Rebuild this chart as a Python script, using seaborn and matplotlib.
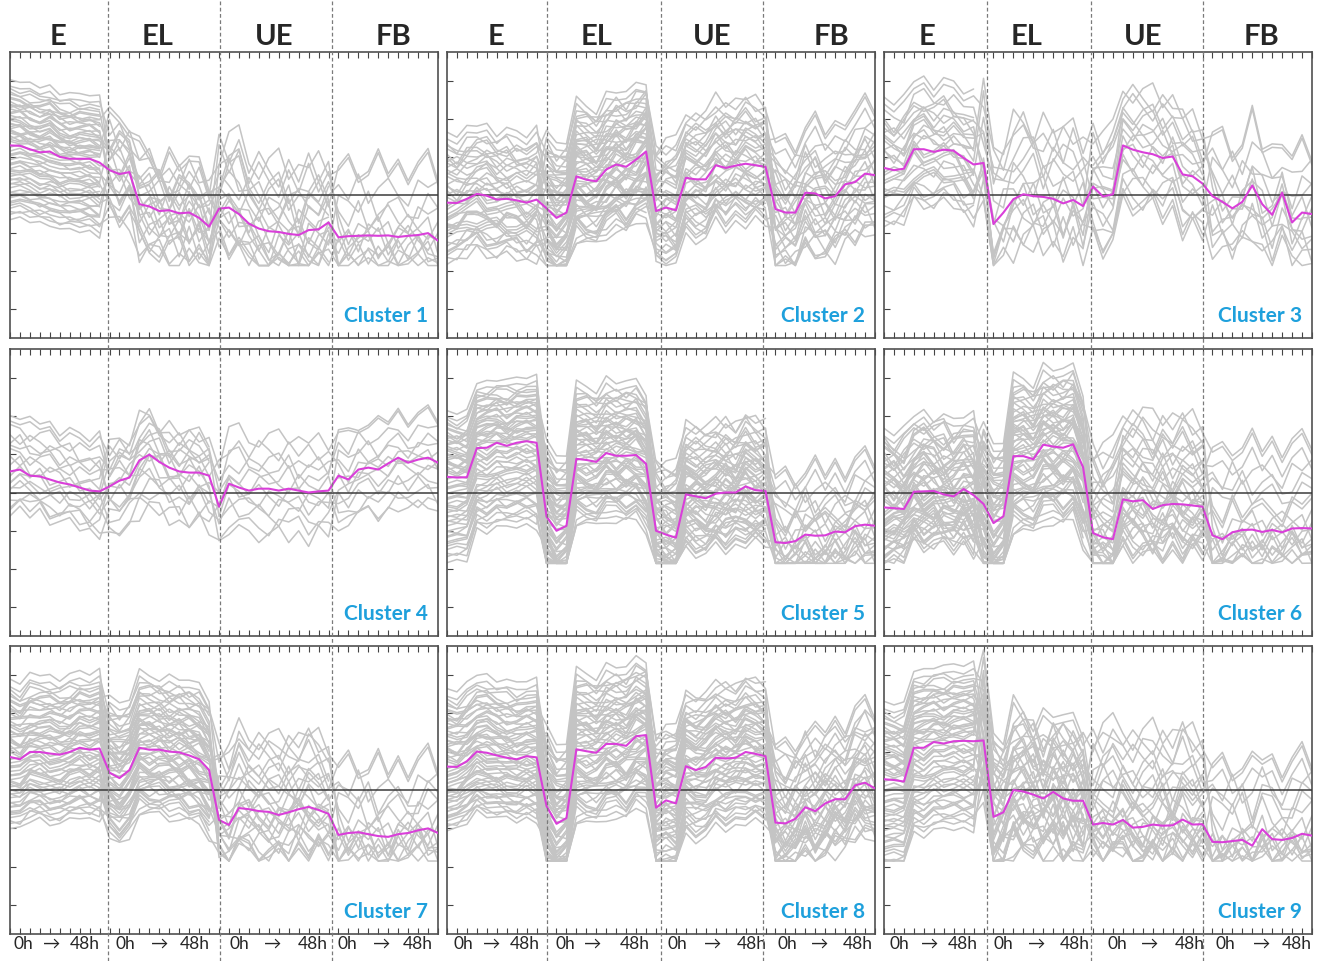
import numpy as np
import pandas as pd
import seaborn as sns
import matplotlib.pyplot as plt
from matplotlib.lines import Line2D

sns.set_style('white')
plt.rcParams['font.family'] = ['Lato', 'DejaVu Sans']

W, H = 1318, 961
conditions = ['E', 'EL', 'UE', 'FB']
cluster_names = ['Cluster %d' % i for i in range(1, 10)]
n_pts = 44
seg_of_point = [0] * 10 + [1] * 11 + [2] * 12 + [3] * 11
floor = -1.85

# magenta mean profile of each cluster (E | EL | UE | FB, 0h -> 48h)
mean_c1 = [1.3, 1.29, 1.2, 1.12, 1.14, 1.0, 0.95, 0.95, 0.95, 0.85,
           0.65, 0.55, 0.6, -0.24, -0.3, -0.42, -0.4, -0.48, -0.46, -0.6, -0.83,
           -0.36, -0.33, -0.5, -0.75, -0.88, -0.95, -0.97, -1.02, -1.05, -0.92, -0.9, -0.72,
           -1.11, -1.08, -1.07, -1.06, -1.07, -1.06, -1.1, -1.07, -1.05, -1.0, -1.2]
mean_c2 = [-0.2, -0.21, -0.1, 0.03, -0.02, -0.12, -0.1, -0.14, -0.2, -0.12,
           -0.35, -0.6, -0.46, 0.49, 0.4, 0.36, 0.67, 0.8, 0.74, 0.93, 1.14,
           -0.42, -0.33, -0.4, 0.45, 0.41, 0.41, 0.78, 0.71, 0.77, 0.82, 0.78, 0.74,
           -0.37, -0.46, -0.46, 0.06, 0.04, -0.09, -0.03, 0.28, 0.34, 0.56, 0.52]
mean_c3 = [0.71, 0.65, 0.69, 1.2, 1.2, 1.13, 1.19, 1.16, 0.97, 0.8, 0.84,
           -0.76, -0.46, -0.11, 0.02, -0.03, -0.05, -0.1, -0.22, -0.13, -0.29,
           0.22, -0.04, 0.02, 1.3, 1.19, 1.12, 1.07, 0.97, 1.01, 0.54, 0.49, 0.3,
           -0.03, -0.18, -0.35, -0.18, 0.25, -0.24, -0.52, 0.06, -0.72, -0.46, -0.5]
mean_c4 = [0.55, 0.6, 0.44, 0.42, 0.34, 0.26, 0.21, 0.13, 0.05, 0.03,
           0.16, 0.31, 0.39, 0.84, 0.99, 0.8, 0.65, 0.55, 0.52, 0.52, 0.44,
           -0.37, 0.23, 0.13, 0.05, 0.1, 0.1, 0.05, 0.1, 0.05, 0.0, 0.03, 0.05,
           0.44, 0.34, 0.6, 0.65, 0.6, 0.76, 0.91, 0.78, 0.86, 0.91, 0.78]
mean_c5 = [0.41, 0.39, 0.4, 1.16, 1.17, 1.3, 1.22, 1.3, 1.34, 1.3,
           -0.63, -1.0, -0.87, 0.88, 0.85, 0.8, 1.03, 0.96, 0.96, 0.98, 0.75,
           -1.0, -1.1, -1.18, -0.05, -0.1, -0.15, -0.03, 0.0, 0.0, 0.16, 0.06, 0.04,
           -1.3, -1.32, -1.27, -1.1, -1.13, -1.12, -1.02, -1.04, -0.88, -0.84, -0.87]
mean_c6 = [-0.39, -0.41, -0.43, 0.02, 0.03, 0.04, -0.05, -0.1, 0.09, -0.07,
           -0.3, -0.8, -0.62, 0.95, 0.95, 0.87, 1.25, 1.2, 1.17, 1.26, 0.66,
           -1.06, -1.17, -1.22, -0.18, -0.23, -0.2, -0.43, -0.33, -0.3, -0.31, -0.34, -0.37,
           -1.12, -1.22, -1.04, -0.98, -0.97, -1.03, -0.98, -1.04, -0.94, -0.93, -0.94]
mean_c7 = [0.86, 0.8, 0.99, 0.99, 0.95, 0.92, 0.99, 1.1, 1.05, 1.08,
           0.45, 0.31, 0.52, 1.1, 1.05, 1.05, 1.0, 0.98, 0.9, 0.8, 0.52,
           -0.78, -0.91, -0.47, -0.5, -0.55, -0.57, -0.65, -0.58, -0.5, -0.44, -0.52, -0.62,
           -1.17, -1.12, -1.1, -1.15, -1.2, -1.22, -1.15, -1.12, -1.05, -1.0, -1.12]
mean_c8 = [0.61, 0.6, 0.75, 1.0, 0.97, 0.9, 0.84, 0.8, 0.88, 0.85,
           -0.42, -0.88, -0.73, 1.06, 1.01, 0.97, 1.2, 1.2, 1.15, 1.4, 1.43,
           -0.46, -0.27, -0.35, 0.62, 0.52, 0.6, 0.84, 0.82, 0.84, 0.99, 0.94, 0.88,
           -0.85, -0.87, -0.75, -0.45, -0.55, -0.35, -0.24, -0.24, 0.12, 0.19, 0.04]
mean_c9 = [0.28, 0.26, 0.22, 1.1, 1.1, 1.25, 1.21, 1.27, 1.28, 1.27,
           1.29, -0.7, -0.58, 0.0, -0.04, -0.12, -0.22, -0.05, -0.22, -0.28, -0.28,
           -0.9, -0.86, -0.9, -0.78, -0.98, -0.96, -0.9, -0.93, -0.92, -0.77, -0.9, -0.89,
           -1.35, -1.36, -1.33, -1.3, -1.45, -1.02, -1.28, -1.3, -1.25, -1.14, -1.19]
means = [mean_c1, mean_c2, mean_c3, mean_c4, mean_c5, mean_c6, mean_c7, mean_c8, mean_c9]

# spread of the grey gene profiles above / below the mean, per condition
spread_up = [[1.7, 1.3, 1.8, 2.0], [1.8, 1.9, 1.8, 2.0], [1.8, 2.0, 1.6, 1.8],
             [1.4, 1.1, 1.4, 1.3], [1.7, 1.9, 1.9, 1.9], [2.0, 2.0, 2.4, 2.5],
             [2.0, 1.9, 2.0, 2.0], [2.0, 2.0, 2.0, 2.2], [2.0, 2.0, 2.5, 2.2]]
spread_dn = [[2.0, 1.3, 1.2, 0.9], [1.6, 1.8, 1.7, 1.6], [1.5, 1.4, 1.6, 1.3],
             [1.1, 1.5, 1.3, 1.3], [2.3, 1.8, 1.6, 1.0], [1.5, 2.1, 1.5, 0.9],
             [1.9, 1.8, 1.3, 0.8], [1.7, 2.0, 2.0, 1.4], [2.4, 1.7, 1.0, 0.7]]
# how many of the grey profiles have values in each condition
shown = [[60, 24, 20, 14], [40, 60, 40, 30], [28, 16, 18, 14],
         [18, 18, 12, 14], [60, 60, 56, 24], [56, 60, 36, 20],
         [60, 60, 26, 16], [60, 60, 60, 40], [60, 44, 28, 18]]
# how jagged the grey profiles are in each condition
jag = [[0.12, 0.6, 0.7, 0.6], [0.25, 0.25, 0.3, 0.45], [0.3, 0.7, 0.5, 0.6],
       [0.3, 0.4, 0.4, 0.3], [0.15, 0.2, 0.3, 0.5], [0.35, 0.25, 0.5, 0.5],
       [0.15, 0.2, 0.5, 0.6], [0.15, 0.2, 0.2, 0.45], [0.15, 0.6, 0.6, 0.6]]

# relative position of each grey profile within the band, per condition
offsets = [
    [0.9, 0.8, 0.95, 0.85], [-0.8, -0.9, -0.7, -0.95], [0.3, 0.5, 0.2, 0.6],
    [-0.4, -0.3, -0.5, -0.2], [0.6, 0.2, 0.7, 0.1], [-0.1, -0.6, 0.1, -0.7],
    [0.1, 0.7, -0.2, 0.4], [-0.6, 0.0, -0.9, -0.5], [0.45, -0.2, 0.5, 0.9],
    [-0.95, -0.5, -0.3, -0.4], [0.75, 0.35, 0.4, 0.25], [-0.25, -0.8, -0.1, -0.85],
    [0.2, 0.9, 0.85, -0.1], [-0.7, 0.1, -0.6, 0.0], [0.5, -0.4, 0.3, 0.5],
    [-0.3, 0.6, -0.8, -0.3], [1.0, 0.3, 0.6, 0.7], [0.0, -0.1, 0.0, -0.6],
    [0.35, 0.55, -0.4, 0.2], [-0.5, -0.7, 0.45, -0.9], [0.65, 1.0, 0.1, 0.35],
    [-0.15, -0.25, -0.15, 0.15], [0.25, 0.15, 0.8, -0.45], [-0.85, -0.95, -0.75, -0.75],
    [0.55, 0.45, 0.35, 0.3], [-0.05, 0.25, -0.05, -0.15], [0.15, -0.05, 0.25, 0.05],
    [-0.45, -0.35, -0.35, -0.55], [0.8, 0.6, 0.65, 0.45], [-0.2, -0.15, -0.25, -0.25],
    [0.4, 0.4, 0.15, 0.1], [-0.35, -0.45, -0.45, -0.35], [0.05, 0.05, 0.05, 0.2],
    [-0.65, -0.55, -0.6, -0.65], [0.7, 0.75, 0.55, 0.55], [-0.55, -0.75, -0.55, -0.5],
    [0.12, 0.32, -0.28, 0.62], [-0.72, -0.42, 0.58, -0.12], [0.58, -0.12, 0.42, 0.78],
    [-0.32, 0.82, -0.62, -0.42], [0.32, -0.62, 0.12, 0.38], [-0.88, 0.42, -0.38, -0.62],
    [0.68, 0.12, 0.92, 0.18], [-0.12, -0.32, 0.22, -0.28], [0.22, 0.68, -0.12, 0.52],
    [-0.58, -0.12, -0.72, -0.08], [0.48, 0.22, 0.48, 0.68], [-0.42, -0.58, 0.32, -0.48],
    [0.08, 0.48, 0.72, 0.28], [-0.22, -0.82, -0.22, -0.72], [0.38, 0.08, 0.28, -0.32],
    [-0.68, 0.32, -0.48, 0.08], [0.85, 0.52, 0.08, 0.62], [-0.08, -0.22, -0.08, -0.18],
    [0.28, 0.85, 0.38, 0.42], [-0.48, -0.48, -0.82, -0.38], [0.62, 0.28, 0.62, 0.12],
    [-0.28, 0.18, -0.32, -0.58], [0.18, -0.38, 0.52, 0.32], [-0.78, -0.68, -0.18, -0.82]]

# time-course wiggles of the grey profiles
wiggles = [
    [0.2, -0.3, 0.5, -0.1, 0.4, -0.6, 0.3, 0.1, -0.4, 0.6, -0.2, 0.5, -0.7, 0.2, 0.8, -0.3, 0.1, -0.5, 0.6, -0.2, 0.3, -0.8,
     0.4, 0.9, -0.2, -0.6, 0.3, 0.7, -0.4, 0.2, -0.1, 0.5, -0.7, 0.1, 0.6, -0.5, -0.2, 0.8, -0.3, 0.4, -0.6, 0.2, 0.7, -0.4],
    [-0.4, 0.3, -0.2, 0.7, -0.5, 0.1, 0.6, -0.3, 0.2, -0.7, 0.4, -0.1, 0.5, -0.6, 0.3, 0.7, -0.4, 0.2, -0.2, 0.8, -0.5, 0.1,
     -0.6, 0.2, 0.5, -0.3, -0.8, 0.4, 0.1, 0.6, -0.5, 0.3, 0.2, -0.7, 0.1, 0.5, 0.8, -0.4, 0.3, -0.6, 0.2, 0.6, -0.3, -0.1],
    [0.6, 0.1, -0.5, 0.3, 0.8, -0.2, -0.6, 0.4, 0.0, 0.5, -0.3, 0.7, 0.2, -0.4, -0.1, 0.6, -0.7, 0.5, 0.1, -0.3, 0.4, 0.3,
     -0.2, -0.5, 0.7, 0.2, -0.4, -0.1, 0.8, -0.6, 0.4, 0.0, 0.5, 0.3, -0.4, 0.7, -0.6, 0.1, 0.5, -0.2, -0.7, 0.4, 0.0, 0.6],
    [-0.1, 0.5, 0.2, -0.6, 0.1, 0.7, -0.4, -0.2, 0.6, -0.5, 0.3, -0.6, 0.0, 0.6, -0.3, -0.5, 0.4, 0.7, -0.6, 0.2, 0.0, 0.5,
     0.7, -0.3, 0.1, 0.6, -0.2, -0.7, 0.3, 0.5, -0.3, -0.6, 0.2, -0.4, 0.5, 0.0, 0.3, -0.6, -0.2, 0.7, 0.4, -0.5, 0.2, 0.3],
    [0.4, -0.6, 0.7, 0.2, -0.3, 0.3, 0.8, -0.6, -0.1, 0.2, 0.6, 0.3, -0.4, 0.8, 0.1, -0.6, 0.6, -0.1, 0.3, 0.5, -0.6, 0.6,
     -0.5, 0.6, -0.3, 0.7, 0.1, -0.5, 0.6, -0.2, 0.7, -0.4, 0.1, 0.6, -0.7, 0.2, -0.1, 0.5, -0.7, 0.1, 0.6, -0.1, -0.6, 0.5],
    [-0.6, 0.0, 0.3, 0.5, -0.7, -0.1, 0.2, 0.6, -0.6, 0.1, -0.1, -0.3, 0.6, 0.1, -0.7, 0.2, 0.5, -0.6, 0.7, -0.5, 0.6, -0.4,
     0.2, -0.1, -0.6, 0.4, 0.6, 0.0, -0.6, 0.7, 0.1, -0.3, 0.6, -0.2, 0.3, -0.7, 0.5, 0.2, 0.6, -0.5, 0.0, 0.3, 0.7, -0.6],
    [0.1, 0.7, -0.4, -0.5, 0.6, 0.4, -0.7, 0.0, 0.5, -0.3, 0.7, -0.5, 0.3, 0.4, 0.6, -0.2, -0.3, 0.6, -0.5, 0.7, -0.3, 0.0,
     0.6, 0.4, -0.1, -0.5, 0.5, 0.3, -0.3, -0.7, 0.6, 0.2, -0.5, 0.5, 0.2, -0.3, 0.6, -0.7, 0.1, 0.4, -0.5, -0.6, 0.4, 0.1],
    [-0.3, -0.5, 0.6, 0.1, -0.2, -0.7, 0.5, 0.3, -0.5, 0.7, 0.0, 0.2, -0.5, -0.2, 0.4, 0.5, -0.6, -0.3, 0.5, 0.1, -0.7, 0.7,
     -0.4, 0.5, 0.3, -0.6, 0.0, 0.6, -0.6, 0.3, -0.6, 0.7, -0.1, 0.7, -0.3, 0.4, -0.5, 0.3, -0.4, 0.6, -0.3, 0.7, -0.5, 0.0]]


def grey_frame(k):
    mean = means[k]
    rows = []
    for j, off in enumerate(offsets):
        wig = wiggles[j % len(wiggles)]
        run, prev = 0, True
        for t in range(n_pts):
            s = seg_of_point[t]
            if j >= shown[k][s]:
                if prev:
                    run += 1
                prev = False
                continue
            prev = True
            spread = spread_up[k][s] if off[s] > 0 else spread_dn[k][s]
            v = mean[t] + off[s] * spread + wig[t] * jag[k][s]
            rows.append((t, max(v, floor), '%d-%d' % (j, run)))
    return pd.DataFrame(rows, columns=['t', 'expr', 'gene'])


fig = plt.figure(figsize=(W / 100, H / 100), dpi=100)

col_x = [(10, 438), (447, 875), (884, 1312)]
row_y = [(52, 338), (349, 636), (646, 934)]
bounds_px = [[108, 220, 332], [547, 661, 763], [987, 1091, 1203]]
header_px = [[58, 158, 274, 394], [496, 597, 712, 831], [927, 1027, 1143, 1262]]
time_px = [[(13, 52, 100), (115, 160, 210), (230, 273, 328), (337, 382, 433)],
           [(453, 492, 540), (555, 593, 650), (668, 713, 767), (777, 820, 873)],
           [(890, 930, 978), (993, 1037, 1090), (1108, 1150, 1205), (1215, 1262, 1312)]]

for k in range(9):
    r, c = divmod(k, 3)
    x0, x1 = col_x[c]
    y0, y1 = row_y[r]
    ax = fig.add_axes([x0 / W, 1 - y1 / H, (x1 - x0) / W, (y1 - y0) / H])
    df = grey_frame(k)
    sns.lineplot(data=df, x='t', y='expr', units='gene', estimator=None,
                 color='#c4c4c4', lw=1.1, ax=ax, legend=False)
    ax.axhline(0, color='#3a3a3a', lw=1.1, zorder=3)
    sns.lineplot(x=list(range(n_pts)), y=means[k], color='#d93fd9', lw=1.5, ax=ax, zorder=4)
    ax.set_xlim(0, n_pts - 1)
    ax.set_ylim(-3.75, 3.75)
    ax.set_xticks(range(n_pts))
    ax.set_yticks(range(-3, 4))
    ax.set_xticklabels([])
    ax.set_yticklabels([])
    ax.set_xlabel('')
    ax.set_ylabel('')
    ax.tick_params(axis='x', direction='in', top=True, bottom=True, length=4, width=0.8, color='#444444')
    ax.tick_params(axis='y', direction='in', left=True, right=False, length=4, width=0.8, color='#444444')
    for sp in ax.spines.values():
        sp.set_visible(True)
        sp.set_color('#505050')
        sp.set_linewidth(1.2)
    ax.text(0.977, 0.055, cluster_names[k], transform=ax.transAxes, ha='right', va='baseline',
            color='#1ea0dc', fontsize=15, fontweight='bold')

for c in range(3):
    for xb in bounds_px[c]:
        fig.add_artist(Line2D([xb / W, xb / W], [0, 1], transform=fig.transFigure,
                              color='#7a7a7a', lw=0.9, ls=(0, (3, 2)), zorder=10))
    for name, xh in zip(conditions, header_px[c]):
        fig.text(xh / W, 1 - 37 / H, name, ha='center', va='center', fontsize=21, fontweight='bold')
    for a, b, e in time_px[c]:
        fig.text(a / W, 1 - 944 / H, '0h', ha='left', va='center', fontsize=12.5)
        fig.text(b / W, 1 - 944 / H, '\u2192', ha='center', va='center', fontsize=12.5)
        fig.text(e / W, 1 - 944 / H, '48h', ha='right', va='center', fontsize=12.5)

fig.savefig('out.png', dpi=100, facecolor='white')
